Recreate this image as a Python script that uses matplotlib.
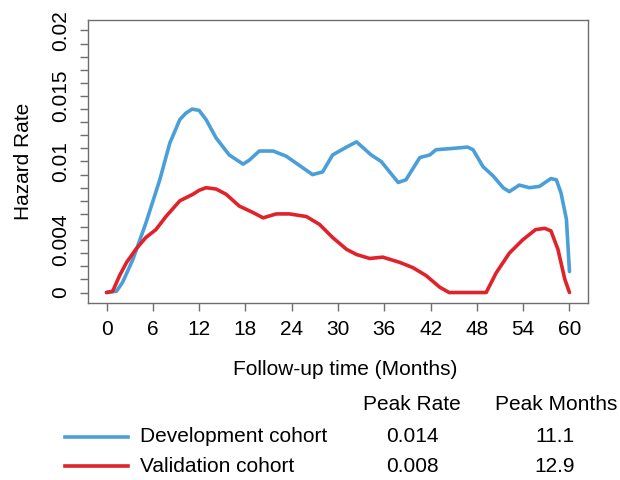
import numpy as np
import matplotlib
matplotlib.use("Agg")
import matplotlib.pyplot as plt

plt.rcParams['font.family'] = ['Liberation Sans', 'DejaVu Sans']

# Smoothed hazard estimates (months, hazard rate)
dev_months = [0, 1.3, 2.1, 3.4, 5.1, 6.9, 8.2, 9.5, 10.3, 11.1, 12.0, 12.9, 14.2,
              15.9, 17.7, 18.5, 19.8, 21.6, 23.3, 25.0, 26.7, 28.0, 29.3, 31.1,
              32.4, 34.3, 35.6, 37.8, 38.8, 40.6, 41.9, 42.7, 44.9, 46.8, 47.5,
              48.8, 50.1, 51.4, 52.2, 53.5, 54.8, 56.1, 57.6, 58.3, 58.9, 59.6, 60.0]
dev_rate = [0, 0.0001, 0.0008, 0.0025, 0.0053, 0.0086, 0.0114, 0.0132, 0.0137,
            0.0140, 0.0139, 0.0132, 0.0118, 0.0105, 0.0098, 0.0101, 0.0108,
            0.0108, 0.0104, 0.0097, 0.0090, 0.0092, 0.0105, 0.0111, 0.0115,
            0.0105, 0.0100, 0.0084, 0.0086, 0.0103, 0.0105, 0.0109, 0.0110,
            0.0111, 0.0109, 0.0096, 0.0089, 0.0080, 0.0077, 0.0082, 0.0080,
            0.0081, 0.0087, 0.0086, 0.0076, 0.0056, 0.0016]

val_months = [0, 0.8, 1.7, 2.6, 3.8, 5.1, 6.4, 7.7, 9.5, 11.2, 12.0, 12.9, 14.2,
              15.5, 17.2, 19.0, 20.3, 22.0, 23.7, 25.9, 27.6, 29.3, 31.1, 32.4,
              34.1, 35.8, 38.0, 39.7, 41.4, 43.2, 44.4, 49.2, 50.5, 52.2, 53.9,
              55.6, 56.8, 57.6, 58.5, 59.4, 60.0]
val_rate = [0, 0.0001, 0.0013, 0.0023, 0.0033, 0.0042, 0.0048, 0.0058, 0.0070,
            0.0075, 0.0078, 0.0080, 0.0079, 0.0075, 0.0066, 0.0061, 0.0057,
            0.0060, 0.0060, 0.0058, 0.0052, 0.0042, 0.0033, 0.0029, 0.0026,
            0.0027, 0.0023, 0.0019, 0.0013, 0.0004, 0.0, 0.0, 0.0015, 0.0030,
            0.0040, 0.0048, 0.0049, 0.0047, 0.0033, 0.0010, 0.0]

cohorts = ['Development cohort', 'Validation cohort']
colors = ['#4a9fd9', '#e0222a']
x_ticks = list(range(0, 61, 6))
y_ticks = np.arange(0, 0.0201, 0.001)
y_labels = {0: '0', 4: '0.004', 10: '0.01', 15: '0.015', 20: '0.02'}

W, H = 620, 480
fig = plt.figure(figsize=(W / 100, H / 100), dpi=100)
ax = fig.add_axes([88 / W, 1 - 303 / H, 500 / W, 283 / H])

series = [(dev_months, dev_rate), (val_months, val_rate)]
for (m, r), c in zip(series, colors):
    ax.plot(m, r, color=c, lw=2.6, solid_joinstyle='round', solid_capstyle='round')

ax.set_xlim(-2.4, 62.4)
ax.set_ylim(-0.0008, 0.0208)
ax.set_xticks(x_ticks)
ax.set_yticks(y_ticks)
ax.set_yticklabels([y_labels.get(i, '') for i in range(len(y_ticks))],
                   rotation=90, va='center')

frame = '#6e6e6e'
for s in ax.spines.values():
    s.set_color(frame)
    s.set_linewidth(1.0)
ax.tick_params(axis='both', length=6, width=1.0, color=frame, labelsize=15,
               labelcolor='black')
ax.tick_params(axis='x', pad=6)
ax.tick_params(axis='y', pad=7)

ax.set_xlabel('Follow-up time (Months)', fontsize=15)
ax.xaxis.set_label_coords(0.515, -0.2)
ax.set_ylabel('Hazard Rate', fontsize=15)
ax.yaxis.set_label_coords(-0.11, 0.5)

# Peak table under the plot
def px(x, y):
    return x / W, 1 - y / H

fs = 15
fig.text(*px(412, 405), 'Peak Rate', fontsize=fs, ha='center', va='center')
fig.text(*px(556, 405), 'Peak Months', fontsize=fs, ha='center', va='center')
for i, ((m, r), name, c) in enumerate(zip(series, cohorts, colors)):
    yy = 437 + i * 29
    k = int(np.argmax(r))
    fig.add_artist(plt.Line2D([65 / W, 128 / W], [1 - yy / H] * 2, color=c,
                              lw=2.6, transform=fig.transFigure))
    fig.text(*px(140, yy), name, fontsize=fs, ha='left', va='center')
    fig.text(*px(412, yy), f'{r[k]:.3f}', fontsize=fs, ha='center', va='center')
    fig.text(*px(555, yy), f'{m[k]:.1f}', fontsize=fs, ha='center', va='center')

fig.savefig('out.png', dpi=100)
